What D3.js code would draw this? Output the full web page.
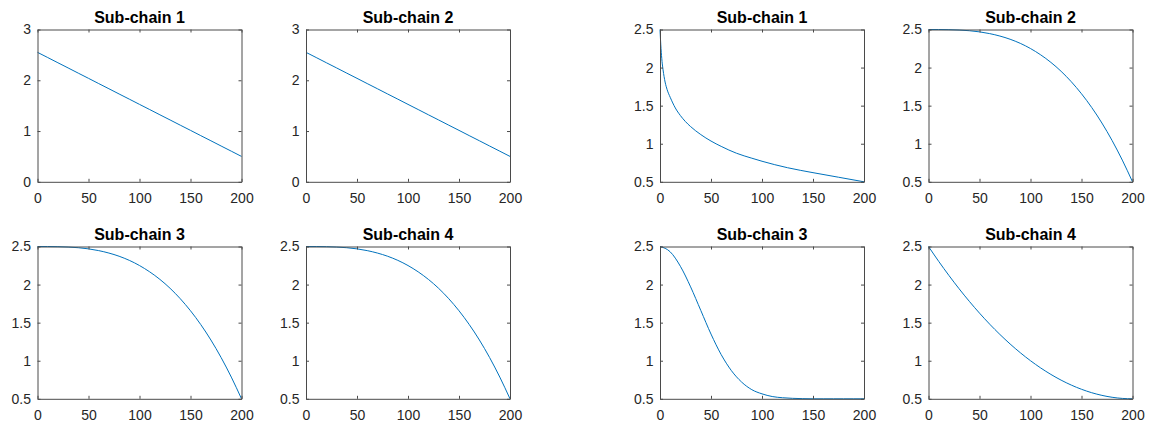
<!DOCTYPE html>
<html lang="en">
<head>
<meta charset="UTF-8">
<title>Sub-chains</title>
<script src="https://cdn.jsdelivr.net/npm/d3@7"></script>
<style>
    body { margin: 0; background: #fff; }
    svg { display: block; font-family: "Liberation Sans", Arial, sans-serif; }
</style>
</head>
<body>
<script>
'use strict';

// x samples (steps of 10) shared by most panels
var xGrid = [0, 10, 20, 30, 40, 50, 60, 70, 80, 90, 100, 110, 120, 130, 140, 150, 160, 170, 180, 190, 200];

// left group
var leftSub1 = [2.550, 2.448, 2.345, 2.243, 2.140, 2.038, 1.935, 1.833, 1.730, 1.628, 1.525, 1.423, 1.320, 1.218, 1.115, 1.013, 0.910, 0.808, 0.705, 0.603, 0.500];
var leftSub2 = [2.550, 2.448, 2.345, 2.243, 2.140, 2.038, 1.935, 1.833, 1.730, 1.628, 1.525, 1.423, 1.320, 1.218, 1.115, 1.013, 0.910, 0.808, 0.705, 0.603, 0.500];
var leftSub3 = [2.500, 2.500, 2.498, 2.493, 2.484, 2.469, 2.446, 2.414, 2.372, 2.318, 2.250, 2.167, 2.068, 1.951, 1.814, 1.656, 1.476, 1.272, 1.042, 0.785, 0.500];
var leftSub4 = [2.500, 2.500, 2.498, 2.493, 2.484, 2.469, 2.446, 2.414, 2.372, 2.318, 2.250, 2.167, 2.068, 1.951, 1.814, 1.656, 1.476, 1.272, 1.042, 0.785, 0.500];

// right group
var rightSub1X = [0, 1, 2, 3, 5, 7, 10, 15, 20, 25, 30, 40, 50, 60, 75, 90, 100, 125, 150, 175, 200];
var rightSub1 = [2.50, 2.25, 2.08, 1.97, 1.81, 1.71, 1.61, 1.47, 1.37, 1.29, 1.225, 1.12, 1.035, 0.965, 0.875, 0.81, 0.77, 0.685, 0.62, 0.56, 0.50];
var rightSub2 = [2.500, 2.500, 2.498, 2.493, 2.484, 2.469, 2.446, 2.414, 2.372, 2.318, 2.250, 2.167, 2.068, 1.951, 1.814, 1.656, 1.476, 1.272, 1.042, 0.785, 0.500];
var rightSub3 = [2.50, 2.43, 2.24, 1.97, 1.66, 1.35, 1.08, 0.87, 0.72, 0.62, 0.565, 0.53, 0.514, 0.506, 0.502, 0.50, 0.50, 0.50, 0.50, 0.50, 0.50];
var rightSub4 = [2.50, 2.305, 2.12, 1.945, 1.78, 1.625, 1.48, 1.345, 1.22, 1.105, 1.00, 0.905, 0.82, 0.745, 0.68, 0.625, 0.58, 0.545, 0.52, 0.505, 0.50];

var titles = ['Sub-chain 1', 'Sub-chain 2', 'Sub-chain 3', 'Sub-chain 4'];
var xTicks = [0, 50, 100, 150, 200];
var yTicksA = [0, 1, 2, 3];
var yTicksB = [0.5, 1, 1.5, 2, 2.5];

var w = 1151, h = 427;
var colLeft = [37.5, 306, 660, 928.5];
var rowTop = [29.5, 246.5];
var pw = 204, ph = 152.3;

var panels = [
    {col: 0, row: 0, title: titles[0], xs: xGrid, ys: leftSub1, yDom: [0, 3], yTicks: yTicksA},
    {col: 1, row: 0, title: titles[1], xs: xGrid, ys: leftSub2, yDom: [0, 3], yTicks: yTicksA},
    {col: 0, row: 1, title: titles[2], xs: xGrid, ys: leftSub3, yDom: [0.5, 2.5], yTicks: yTicksB},
    {col: 1, row: 1, title: titles[3], xs: xGrid, ys: leftSub4, yDom: [0.5, 2.5], yTicks: yTicksB},
    {col: 2, row: 0, title: titles[0], xs: rightSub1X, ys: rightSub1, yDom: [0.5, 2.5], yTicks: yTicksB},
    {col: 3, row: 0, title: titles[1], xs: xGrid, ys: rightSub2, yDom: [0.5, 2.5], yTicks: yTicksB},
    {col: 2, row: 1, title: titles[2], xs: xGrid, ys: rightSub3, yDom: [0.5, 2.5], yTicks: yTicksB},
    {col: 3, row: 1, title: titles[3], xs: xGrid, ys: rightSub4, yDom: [0.5, 2.5], yTicks: yTicksB}
];

var svg = d3.select('body')
    .append('svg')
    .attr('width', w)
    .attr('height', h);

var axisColor = '#4a4a4a';
var textColor = '#262626';

panels.forEach(function(p) {
    var g = svg.append('g')
        .attr('transform', 'translate(' + colLeft[p.col] + ',' + rowTop[p.row] + ')');

    var x = d3.scaleLinear().domain([0, 200]).range([0, pw]);
    var y = d3.scaleLinear().domain(p.yDom).range([ph, 0]);

    // curve
    var pts = p.xs.map(function(v, i) { return [v, p.ys[i]]; });
    var line = d3.line()
        .x(function(d) { return x(d[0]); })
        .y(function(d) { return y(d[1]); })
        .curve(d3.curveMonotoneX);

    g.append('path')
        .datum(pts)
        .attr('fill', 'none')
        .attr('stroke', '#0072BD')
        .attr('stroke-width', 1)
        .attr('d', line);

    // axes, ticks pointing inward on all four sides
    var bottom = g.append('g')
        .attr('transform', 'translate(0,' + ph + ')')
        .call(d3.axisBottom(x).tickValues(xTicks).tickSizeInner(-3).tickSizeOuter(0).tickPadding(11.5));
    var left = g.append('g')
        .call(d3.axisLeft(y).tickValues(p.yTicks).tickSizeInner(-3).tickSizeOuter(0).tickPadding(6.5)
            .tickFormat(d3.format('~g')));
    var top = g.append('g')
        .call(d3.axisTop(x).tickValues(xTicks).tickSizeInner(-3).tickSizeOuter(0).tickFormat(''));
    var right = g.append('g')
        .attr('transform', 'translate(' + pw + ',0)')
        .call(d3.axisRight(y).tickValues(p.yTicks).tickSizeInner(-3).tickSizeOuter(0).tickFormat(''));

    [bottom, left, top, right].forEach(function(a) {
        a.selectAll('path, line').attr('stroke', axisColor);
        a.selectAll('text')
            .attr('fill', textColor)
            .attr('font-size', '14px')
            .attr('font-family', '"Liberation Sans", Arial, sans-serif');
    });

    g.append('text')
        .attr('x', pw / 2)
        .attr('y', -7)
        .attr('text-anchor', 'middle')
        .attr('font-size', '16px')
        .attr('font-weight', 'bold')
        .attr('fill', '#000')
        .text(p.title);
});
</script>
</body>
</html>
